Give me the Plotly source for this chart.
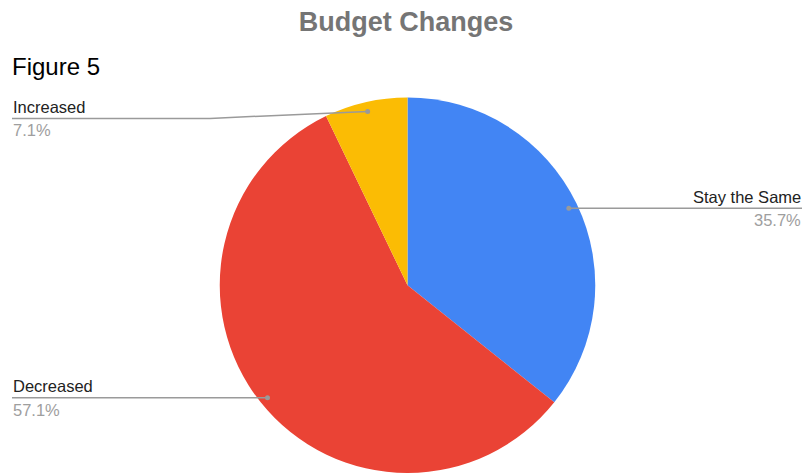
import math
import plotly.graph_objects as go

labels = ["Stay the Same", "Decreased", "Increased"]
values = [5, 8, 1]
colors = ["#4285F4", "#EA4335", "#FBBC04"]
title_text = "Budget Changes"
subtitle_text = "Figure 5"

W, H = 804, 473
CX, CY, R = 407.5, 286.0, 188.5

def px(x):
    return x / W

def py(y):
    return 1 - y / H

fig = go.Figure()
fig.add_trace(go.Pie(
    labels=labels, values=values, sort=False, direction="clockwise", rotation=0,
    marker=dict(colors=colors, line=dict(width=0)),
    textinfo="none", hoverinfo="label+percent", showlegend=False,
    domain=dict(x=[px(CX - R), px(CX + R)], y=[0, py(CY - R)]),
))

total = sum(values)
shapes = []
annotations = []
cum = 0
side = {"Stay the Same": "right", "Decreased": "left", "Increased": "left"}
row_shift = {"Stay the Same": 0, "Decreased": 0, "Increased": 7}
line_color = "#9a9a9a"
for lab, v in zip(labels, values):
    mid = (cum + v / 2) / total * 2 * math.pi
    cum += v
    dx = CX + 0.95 * R * math.sin(mid)
    dy = CY - 0.95 * R * math.cos(mid)
    ly = dy + row_shift[lab]
    if side[lab] == "right":
        xe, anchor = W - 2, "right"
        knee = dx
    else:
        xe, anchor = 12, "left"
        knee = dx if row_shift[lab] == 0 else 210
    shapes.append(dict(type="line", xref="paper", yref="paper", x0=px(dx), y0=py(dy),
                       x1=px(knee), y1=py(ly), line=dict(color=line_color, width=1.5)))
    shapes.append(dict(type="line", xref="paper", yref="paper", x0=px(knee), y0=py(ly),
                       x1=px(xe), y1=py(ly), line=dict(color=line_color, width=1.5)))
    shapes.append(dict(type="circle", xref="paper", yref="paper", x0=px(dx - 2.5), x1=px(dx + 2.5),
                       y0=py(dy - 2.5), y1=py(dy + 2.5), fillcolor=line_color, line=dict(width=0)))
    annotations.append(dict(text=lab, xref="paper", yref="paper", x=px(xe), y=py(ly - 1.5),
                            xanchor=anchor, yanchor="bottom", showarrow=False, borderpad=0,
                            font=dict(family="Arial", size=16.5, color="#222222")))
    annotations.append(dict(text=f"{v / total * 100:.1f}%", xref="paper", yref="paper", x=px(xe), y=py(ly + 2),
                            xanchor=anchor, yanchor="top", showarrow=False, borderpad=0,
                            font=dict(family="Arial", size=16.5, color="#9e9e9e")))

annotations.append(dict(text=subtitle_text, xref="paper", yref="paper", x=px(11), y=py(52),
                        xanchor="left", yanchor="top", showarrow=False, borderpad=0,
                        font=dict(family="Arial", size=24, color="#000000")))

fig.update_layout(
    width=W, height=H, margin=dict(l=0, r=0, t=0, b=0),
    paper_bgcolor="white", plot_bgcolor="white",
    title=dict(text=f"<b>{title_text}</b>", x=406 / W, xanchor="center", y=py(22), yanchor="middle",
               yref="container", font=dict(family="Arial", size=27, color="#757575")),
    shapes=shapes, annotations=annotations,
)

fig.write_html("out.html")
